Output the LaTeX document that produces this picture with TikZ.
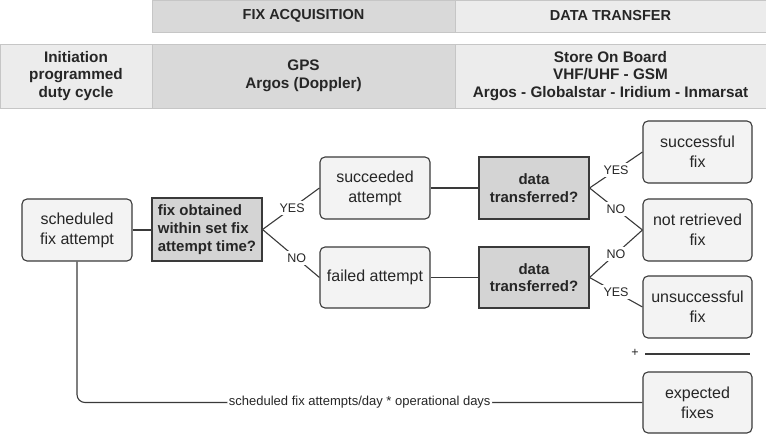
\documentclass[tikz,border=0pt]{standalone}
\usepackage{fontspec}
\setmainfont{Liberation Sans}
\definecolor{bandlight}{HTML}{ECECEC}
\definecolor{banddark}{HTML}{D9D9D9}
\definecolor{bandline}{HTML}{C6C6C6}
\definecolor{boxfill}{HTML}{F3F3F3}
\definecolor{qfill}{HTML}{D4D4D4}
\definecolor{edge}{HTML}{3A3A3A}
\definecolor{txt}{HTML}{262626}
\tikzset{
  bandbase/.style={draw=bandline, line width=0.8pt, inner sep=0pt, align=center, text=txt},
  bandlt/.style={bandbase, fill=bandlight},
  banddk/.style={bandbase, fill=banddark},
  headtxt/.style={font=\fontsize{14.5}{17}\selectfont\bfseries},
  bandtxt/.style={font=\fontsize{15.3}{17.5}\selectfont\bfseries},
  rbox/.style={draw=edge, line width=1.1pt, fill=boxfill, rounded corners=5pt,
    minimum width=109pt, minimum height=62pt, inner sep=0pt, align=center, text=txt,
    font=\fontsize{16}{20}\selectfont},
  qbox/.style={draw=edge, line width=1.1pt, fill=qfill,
    minimum width=110pt, minimum height=62pt, inner sep=0pt, align=center, text=txt,
    font=\fontsize{15}{17.7}\selectfont\bfseries},
  conn/.style={draw=edge, line width=1.1pt},
  lab/.style={fill=white, inner sep=2.5pt, text=txt, font=\fontsize{12.5}{14}\selectfont}
}
\begin{document}
\begin{tikzpicture}[x=1pt,y=-1pt]
\useasboundingbox (0,0) rectangle (766,435);
% header bands
\node[banddk, headtxt, minimum width=303pt, minimum height=32pt] (facq) at (303.5,16) {FIX ACQUISITION};
\node[bandlt, headtxt, minimum width=311pt, minimum height=32pt] (dtra) at (610.5,16) {DATA TRANSFER};
\node[bandlt, bandtxt, minimum width=152pt, minimum height=64pt] (init) at (76,76) {Initiation\\programmed\\duty cycle};
\node[banddk, bandtxt, minimum width=303pt, minimum height=64pt] (gps) at (303.5,76) {GPS\\Argos (Doppler)};
\node[bandlt, bandtxt, minimum width=311pt, minimum height=64pt] (store) at (610.5,76) {Store On Board\\VHF/UHF - GSM\\Argos - Globalstar - Iridium - Inmarsat};
% flow nodes
\node[rbox, minimum width=110pt] (sched) at (77,230) {scheduled\\fix attempt};
\node[qbox, align=left, minimum height=63pt] (fixobt) at (207,229.5) {fix obtained\\within set fix\\attempt time?};
\node[rbox, minimum width=110pt] (succ) at (375,188) {succeeded\\attempt};
\node[rbox, minimum width=110pt, minimum height=61pt] (fail) at (375,277.5) {failed attempt};
\node[qbox] (dtone) at (534,188) {data\\transferred?};
\node[qbox, minimum height=61pt] (dttwo) at (534,277.5) {data\\transferred?};
\node[rbox] (sfix) at (697.5,152) {successful\\fix};
\node[rbox] (nrfix) at (697.5,230) {not retrieved\\fix};
\node[rbox] (ufix) at (697.5,307) {unsuccessful\\fix};
\node[rbox, minimum height=61pt] (expf) at (697.5,402.5) {expected\\fixes};
% sum line
\node[text=txt, font=\fontsize{12.5}{14}\selectfont, inner sep=0pt] (plus) at (635,353) {+};
\coordinate (sumL) at (645,354);
\coordinate (sumR) at (750,354);
\draw[conn] (sumL) -- (sumR);
% connectors
\draw[conn] (sched.east) -- (fixobt.west |- sched.east);
\draw[conn] (fixobt.east) -- node[lab, pos=0.52] {YES} (succ.west);
\draw[conn] (fixobt.east) -- node[lab, pos=0.6] {NO} (fail.west);
\draw[conn] (succ.east) -- (dtone.west);
\draw[conn] (fail.east) -- (dttwo.west);
\draw[conn] (dtone.east) -- node[lab] {YES} (sfix.west);
\draw[conn] (dtone.east) -- node[lab] {NO} (nrfix.west);
\draw[conn] (dttwo.east) -- node[lab] {NO} (nrfix.west);
\draw[conn] (dttwo.east) -- node[lab] {YES} (ufix.west);
\draw[conn, rounded corners=8pt] (sched.south) |- node[lab, pos=0.75, font=\fontsize{13}{14}\selectfont, inner sep=1.5pt] {scheduled fix attempts/day * operational days} (expf.west);
\end{tikzpicture}
\end{document}
